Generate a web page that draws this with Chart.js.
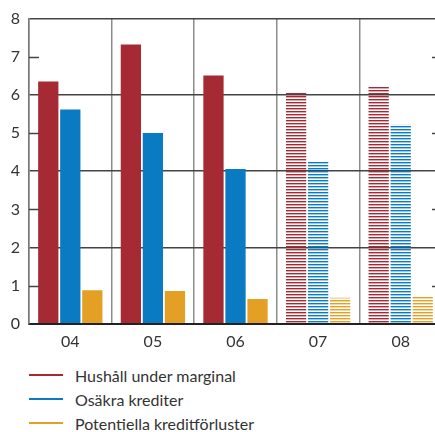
<!DOCTYPE html>
<html>
<head>
<meta charset="utf-8">
<script src="https://cdn.jsdelivr.net/npm/chart.js@4"></script>
<style>
  html, body { margin: 0; padding: 0; background: #fff; overflow: hidden; }
  #wrap { position: relative; width: 445px; height: 359px; }
  #legend { margin: 4px 0 0 29px; font-family: Lato, "Open Sans", sans-serif; font-size: 16px; color: #333; }
  #legend div { display: flex; align-items: center; height: 24px; }
  #legend span.sw { display: inline-block; width: 34px; height: 2.5px; margin-right: 12px; }
</style>
</head>
<body>
<div id="wrap"><canvas id="chart" width="445" height="359"></canvas></div>
<div id="legend"></div>
<script>
const years = ["04", "05", "06", "07", "08"];
const hushall = [6.35, 7.32, 6.51, 6.07, 6.22];
const osakra = [5.62, 5.0, 4.06, 4.27, 5.22];
const forluster = [0.88, 0.86, 0.65, 0.68, 0.70];
const seriesNames = ["Hushåll under marginal", "Osäkra krediter", "Potentiella kreditförluster"];
const colors = ["#a52a33", "#0a7ac2", "#e3a024"];
const forecastFrom = 3; // 07 and 08 are forecasts, drawn striped

function stripes(color) {
    const c = document.createElement('canvas');
    c.width = 4; c.height = 3;
    const g = c.getContext('2d');
    g.fillStyle = color;
    g.fillRect(0, 0, 4, 1.4);
    return g.createPattern(c, 'repeat');
}

function fills(color) {
    const p = stripes(color);
    return years.map((y, i) => i >= forecastFrom ? p : color);
}

// short inward tick marks at the odd values, both sides
const oddTicks = {
    id: 'oddTicks',
    afterDraw(chart) {
        const { ctx, chartArea: a, scales: { y } } = chart;
        ctx.save();
        ctx.strokeStyle = '#444';
        ctx.lineWidth = 1.5;
        [1, 3, 5, 7].forEach(v => {
            const py = Math.round(y.getPixelForValue(v)) + 0.5;
            ctx.beginPath();
            ctx.moveTo(a.left, py); ctx.lineTo(a.left + 10, py);
            ctx.moveTo(a.right - 10, py); ctx.lineTo(a.right, py);
            ctx.stroke();
        });
        ctx.restore();
    }
};

const data = [hushall, osakra, forluster];
const chart = new Chart(document.getElementById('chart'), {
    type: 'bar',
    data: {
        labels: years,
        datasets: data.map((d, i) => ({
            label: seriesNames[i],
            data: d,
            backgroundColor: fills(colors[i]),
            borderWidth: 0,
            categoryPercentage: 0.8,
            barPercentage: 0.92
        }))
    },
    options: {
        responsive: false,
        animation: false,
        layout: { padding: { top: 15, right: 3, left: 0, bottom: 0 } },
        plugins: { legend: { display: false }, tooltip: { enabled: false } },
        scales: {
            x: {
                offset: true,
                grid: { offset: true, color: '#8c8c8c', lineWidth: 1.5, drawTicks: false },
                border: { display: true, color: '#222', width: 2 },
                ticks: { color: '#333', padding: 8, font: { family: 'Lato', size: 16 } }
            },
            y: {
                min: 0, max: 8,
                afterFit: s => { s.width = 29; },
                ticks: { stepSize: 1, color: '#333', padding: 9, font: { family: 'Lato', size: 16 } },
                grid: {
                    drawTicks: false,
                    lineWidth: 1.5,
                    color: c => c.tick.value % 2 === 0 && c.tick.value > 0 ? '#444' : 'rgba(0,0,0,0)'
                },
                border: { display: true, color: '#777', width: 1.5 }
            }
        }
    },
    plugins: [oddTicks]
});

document.getElementById('legend').innerHTML = seriesNames.map((n, i) =>
    `<div><span class="sw" style="background:${colors[i]}"></span>${n}</div>`).join('');
</script>
</body>
</html>
